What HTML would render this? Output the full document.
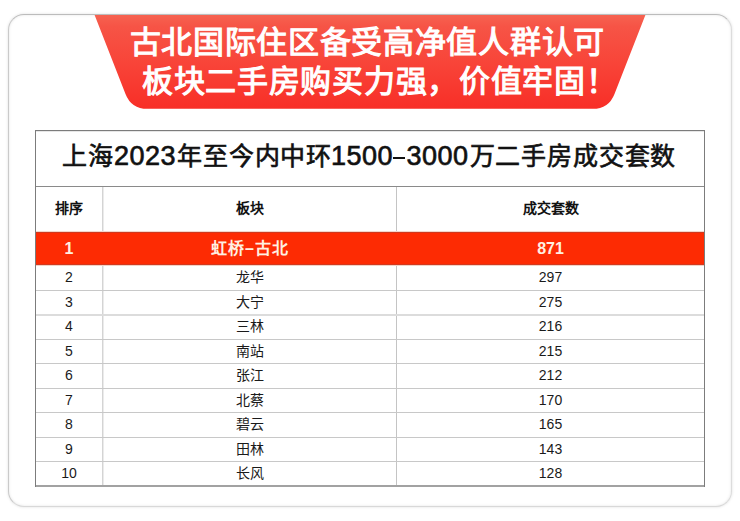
<!DOCTYPE html>
<html lang="zh-CN"><head><meta charset="utf-8">
<style>
html,body{margin:0;padding:0;background:#fff;}
body{width:740px;height:521px;position:relative;overflow:hidden;font-family:"Liberation Sans",sans-serif;}
.card{position:absolute;left:8px;top:14px;width:722px;height:491px;border:1px solid #bcbcbc;border-left-color:#cacaca;border-right-color:#dcdcdc;border-bottom-color:#d8d8d8;border-radius:16px;background:#fff;box-shadow:0 0 3px rgba(0,0,0,.13), inset 0 0 3px rgba(0,0,0,.10);}
svg.banner{position:absolute;left:0;top:0;}
.bt{position:absolute;color:#fff;font-weight:400;-webkit-text-stroke:1.1px #fff;font-size:31px;letter-spacing:0.7px;line-height:36px;white-space:nowrap;}
.ln{position:absolute;}
.tx{position:absolute;text-align:center;white-space:nowrap;color:#111;}
.tt{position:absolute;top:140px;line-height:32px;white-space:nowrap;color:#111;-webkit-text-stroke:0.65px #111;}
.tt.cj{font-size:25px;letter-spacing:0.85px;}
.tt.dg{font-size:27px;letter-spacing:0.5px;}
.hd{font-size:14px;font-weight:700;top:199px;line-height:18px;}
.r{font-size:14px;line-height:18px;color:#1a1a1a;}
.red{font-size:16px;font-weight:700;color:#fff0e2;line-height:20px;top:239px;}
.c1{left:36px;width:66px;}
.c2{left:103px;width:293px;}
.c3{left:397px;width:307px;}
</style></head><body>
<div class="card"></div>
<svg class="banner" width="740" height="521" viewBox="0 0 740 521">
<defs><linearGradient id="g" x1="0" y1="15" x2="0" y2="109" gradientUnits="userSpaceOnUse">
<stop offset="0" stop-color="#f66250"/><stop offset="0.12" stop-color="#f65446"/><stop offset="0.5" stop-color="#f84539"/><stop offset="1" stop-color="#f82e27"/></linearGradient></defs>
<path d="M94.6 15 L645.4 15 L614.5 93.9 Q608.7 108.8 592.7 108.8 L147.3 108.8 Q131.3 108.8 125.5 93.9 Z" fill="url(#g)"/>
</svg>
<div class="bt" style="top:24.5px;left:129.5px">古北国际住区备受高净值人群认可</div>
<div class="bt" style="top:63.5px;left:142px">板块二手房购买力强，价值牢固！</div>

<!-- table lines -->
<div class="ln" style="left:35px;top:130px;width:670px;height:1px;background:#7c7c7c"></div>
<div class="ln" style="left:36px;top:131px;width:668px;height:1px;background:#e6e6e6"></div>
<div class="ln" style="left:35px;top:485px;width:670px;height:2px;background:#a2a2a2"></div>
<div class="ln" style="left:35px;top:130px;width:1px;height:357px;background:#7c7c7c"></div>
<div class="ln" style="left:704px;top:130px;width:1px;height:357px;background:#7c7c7c"></div>
<div class="ln" style="left:36px;top:186px;width:668px;height:1px;background:#8a8a8a"></div>
<div class="ln" style="left:102px;top:187px;width:1px;height:298px;background:#d4d4d4"></div>
<div class="ln" style="left:103px;top:187px;width:1px;height:298px;background:#ebebeb"></div>
<div class="ln" style="left:396px;top:187px;width:1px;height:298px;background:#c4c4c4"></div>
<div class="ln" style="left:36px;top:231px;width:668px;height:1px;background:#f2d6cc"></div>
<div class="ln" style="left:36px;top:232px;width:668px;height:33px;background:#fd2b03"></div>
<div class="ln" style="left:36px;top:232px;width:668px;height:1px;background:#d0381e"></div>
<div class="ln" style="left:36px;top:264px;width:668px;height:1px;background:#d23a20"></div>
<div class="ln" style="left:36px;top:265px;width:668px;height:1px;background:#f3d2c6"></div>
<div class="ln" style="left:36px;top:290px;width:668px;height:1px;background:#c8c8c8"></div>
<div class="ln" style="left:36px;top:314px;width:668px;height:2px;background:#dcdcdc"></div>
<div class="ln" style="left:36px;top:339px;width:668px;height:1px;background:#c8c8c8"></div>
<div class="ln" style="left:36px;top:363px;width:668px;height:1px;background:#c8c8c8"></div>
<div class="ln" style="left:36px;top:388px;width:668px;height:1px;background:#c8c8c8"></div>
<div class="ln" style="left:36px;top:412px;width:668px;height:1px;background:#c8c8c8"></div>
<div class="ln" style="left:36px;top:437px;width:668px;height:1px;background:#c8c8c8"></div>
<div class="ln" style="left:36px;top:461px;width:668px;height:1px;background:#c8c8c8"></div>

<div class="tt cj" style="left:62px">上海</div>
<div class="tt dg" style="left:114px">2023</div>
<div class="tt cj" style="left:177px">年至今内中环</div>
<div class="tt dg" style="left:331px">1500</div>
<div class="ln" style="left:392.5px;top:157px;width:12.5px;height:2.4px;background:#111"></div>
<div class="tt dg" style="left:406.5px">3000</div>
<div class="tt cj" style="left:469.5px">万二手房成交套数</div>
<div class="tx hd c1">排序</div>
<div class="tx hd c2">板块</div>
<div class="tx hd c3">成交套数</div>
<div class="tx red c1">1</div>
<div class="tx red c2" style="letter-spacing:0.8px;text-indent:0.8px">虹桥–古北</div>
<div class="tx red c3">871</div>

<div class="tx r c1" style="top:268px">2</div><div class="tx r c2" style="top:268px">龙华</div><div class="tx r c3" style="top:268px">297</div>
<div class="tx r c1" style="top:293px">3</div><div class="tx r c2" style="top:293px">大宁</div><div class="tx r c3" style="top:293px">275</div>
<div class="tx r c1" style="top:317px">4</div><div class="tx r c2" style="top:317px">三林</div><div class="tx r c3" style="top:317px">216</div>
<div class="tx r c1" style="top:342px">5</div><div class="tx r c2" style="top:342px">南站</div><div class="tx r c3" style="top:342px">215</div>
<div class="tx r c1" style="top:366px">6</div><div class="tx r c2" style="top:366px">张江</div><div class="tx r c3" style="top:366px">212</div>
<div class="tx r c1" style="top:391px">7</div><div class="tx r c2" style="top:391px">北蔡</div><div class="tx r c3" style="top:391px">170</div>
<div class="tx r c1" style="top:415px">8</div><div class="tx r c2" style="top:415px">碧云</div><div class="tx r c3" style="top:415px">165</div>
<div class="tx r c1" style="top:440px">9</div><div class="tx r c2" style="top:440px">田林</div><div class="tx r c3" style="top:440px">143</div>
<div class="tx r c1" style="top:464px">10</div><div class="tx r c2" style="top:464px">长风</div><div class="tx r c3" style="top:464px">128</div>
</body></html>
